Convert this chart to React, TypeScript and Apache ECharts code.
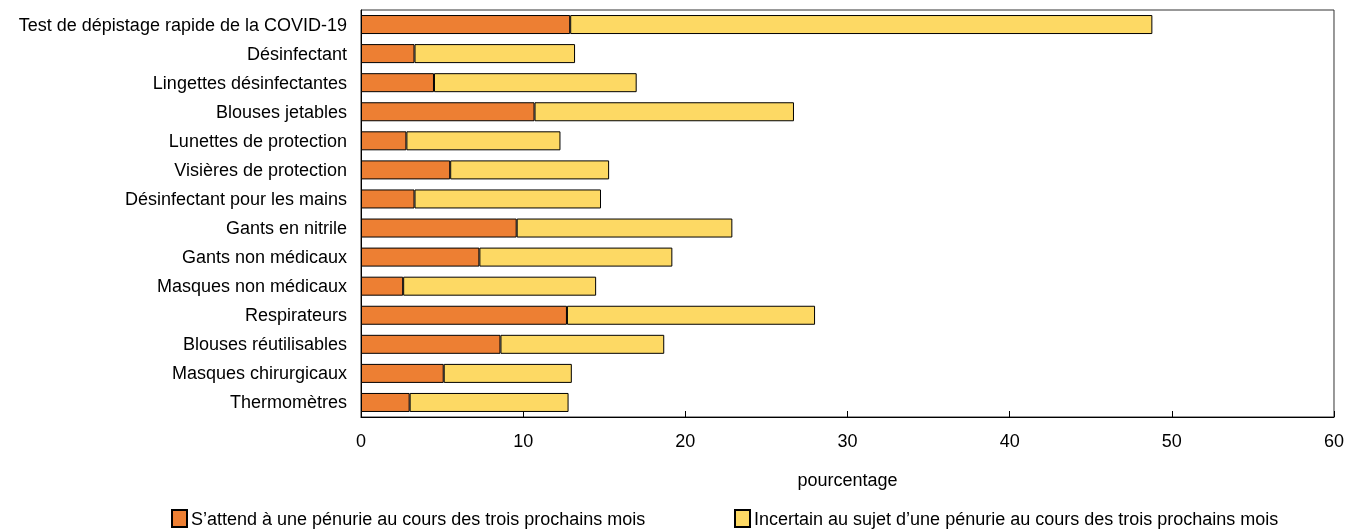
import React, { useEffect, useRef } from "react";
import * as echarts from "echarts";

const categories = [
  "Test de dépistage rapide de la COVID-19",
  "Désinfectant",
  "Lingettes désinfectantes",
  "Blouses jetables",
  "Lunettes de protection",
  "Visières de protection",
  "Désinfectant pour les mains",
  "Gants en nitrile",
  "Gants non médicaux",
  "Masques non médicaux",
  "Respirateurs",
  "Blouses réutilisables",
  "Masques chirurgicaux",
  "Thermomètres",
];

const expects = [12.9, 3.3, 4.5, 10.7, 2.8, 5.5, 3.3, 9.6, 7.3, 2.6, 12.7, 8.6, 5.1, 3.0];
const uncertain = [35.9, 9.9, 12.5, 16.0, 9.5, 9.8, 11.5, 13.3, 11.9, 11.9, 15.3, 10.1, 7.9, 9.8];

const seriesNames = [
  "S\u2019attend à une pénurie au cours des trois prochains mois",
  "Incertain au sujet d\u2019une pénurie au cours des trois prochains mois",
];

const FONT = "'Liberation Sans', Arial, sans-serif";
const FS = 18;

export default function App() {
  const ref = useRef<HTMLDivElement>(null);
  useEffect(() => {
    if (!ref.current) return;
    const chart = echarts.init(ref.current, null, { renderer: "svg" });
    chart.setOption({
      animation: false,
      textStyle: { fontFamily: FONT, color: "#000" },
      grid: {
        left: 361,
        right: 12,
        top: 10,
        bottom: 112,
        show: true,
        borderColor: "#333",
        borderWidth: 1,
        containLabel: false,
      },
      legend: [
        {
          data: [seriesNames[0]],
          left: 166,
          top: 504,
          itemWidth: 15,
          itemHeight: 17,
          itemGap: 4,
          icon: "rect",
          textStyle: { fontFamily: FONT, fontSize: FS, color: "#000", padding: [0, 0, 0, -1] },
        },
        {
          data: [seriesNames[1]],
          left: 729,
          top: 504,
          itemWidth: 15,
          itemHeight: 17,
          icon: "rect",
          textStyle: { fontFamily: FONT, fontSize: FS, color: "#000", padding: [0, 0, 0, -1] },
        },
      ],
      xAxis: {
        type: "value",
        min: 0,
        max: 60,
        interval: 10,
        name: "pourcentage",
        nameLocation: "middle",
        nameGap: 54,
        nameTextStyle: { fontFamily: FONT, fontSize: FS, color: "#000" },
        axisLine: { show: true, lineStyle: { color: "#000" } },
        axisTick: { show: true, inside: true, length: 6, lineStyle: { color: "#000" } },
        axisLabel: { fontFamily: FONT, fontSize: FS, color: "#000", margin: 15 },
        splitLine: { show: false },
      },
      yAxis: {
        type: "category",
        data: categories,
        inverse: true,
        axisLine: { show: true, lineStyle: { color: "#000" } },
        axisTick: { show: false },
        axisLabel: { fontFamily: FONT, fontSize: FS, color: "#000", margin: 14 },
      },
      series: [
        {
          name: seriesNames[0],
          type: "bar",
          stack: "total",
          data: expects,
          barWidth: 19,
          itemStyle: { color: "#ED7F33", borderColor: "#000", borderWidth: 1 },
        },
        {
          name: seriesNames[1],
          type: "bar",
          stack: "total",
          data: uncertain,
          barWidth: 19,
          itemStyle: { color: "#FDD964", borderColor: "#000", borderWidth: 1 },
        },
      ],
    });
    return () => chart.dispose();
  }, []);
  return (
    <div
      ref={ref}
      style={{ position: "fixed", left: 0, top: 0, width: 1347, height: 529 }}
    />
  );
}
